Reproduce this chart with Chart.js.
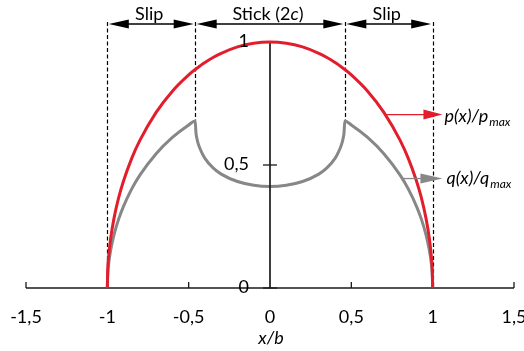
<!DOCTYPE html>
<html>
<head>
<meta charset="utf-8">
<script src="https://cdn.jsdelivr.net/npm/chart.js@4/dist/chart.umd.min.js"></script>
<style>
  html, body { margin: 0; padding: 0; background: #fff; }
  #wrap { width: 524px; height: 351px; }
</style>
</head>
<body>
<div id="wrap"><canvas id="chart" width="524" height="351"></canvas></div>
<script>
// Normalised position across the contact, x/b
const xPos = [
  -1, -0.998, -0.99, -0.98, -0.96, -0.93, -0.9, -0.85, -0.8, -0.7, -0.6, -0.5,
  -0.46, -0.455, -0.45, -0.44, -0.42, -0.4, -0.35, -0.3, -0.2, -0.1,
  0,
  0.1, 0.2, 0.3, 0.35, 0.4, 0.42, 0.44, 0.45, 0.455, 0.46,
  0.5, 0.6, 0.7, 0.8, 0.85, 0.9, 0.93, 0.96, 0.98, 0.99, 0.998, 1
];
// Normal pressure p(x)/pmax
const pValues = [
  0, 0.063, 0.141, 0.199, 0.280, 0.368, 0.436, 0.527, 0.600, 0.714, 0.800, 0.866,
  0.888, 0.890, 0.893, 0.898, 0.908, 0.917, 0.937, 0.954, 0.980, 0.995,
  1,
  0.995, 0.980, 0.954, 0.937, 0.917, 0.908, 0.898, 0.893, 0.890, 0.888,
  0.866, 0.800, 0.714, 0.600, 0.527, 0.436, 0.368, 0.280, 0.199, 0.141, 0.063, 0
];
// Shear traction q(x)/qmax
const qValues = [
  0, 0.048, 0.108, 0.152, 0.214, 0.281, 0.333, 0.403, 0.459, 0.546, 0.612, 0.663,
  0.679, 0.630, 0.610, 0.584, 0.551, 0.527, 0.488, 0.463, 0.433, 0.418,
  0.413,
  0.418, 0.433, 0.463, 0.488, 0.527, 0.551, 0.584, 0.610, 0.630, 0.679,
  0.663, 0.612, 0.546, 0.459, 0.403, 0.333, 0.281, 0.214, 0.152, 0.108, 0.048, 0
];

const xTicks = [-1.5, -1, -0.5, 0, 0.5, 1, 1.5];
const xTickLabels = ['-1,5', '-1', '-0,5', '0', '0,5', '1', '1,5'];
const yTicks = [0, 0.5, 1];
const yTickLabels = ['0', '0,5', '1'];

// Slip / stick zone boundaries, where each boundary line stops, and captions
const zoneEdges = [-1, -0.46, 0.46, 1];
const zoneEdgeEnds = [0, 0.679, 0.679, 0];
const zoneLabels = [
  [['Slip', false]],
  [['Stick (2', false], ['c', true], [')', false]],
  [['Slip', false]]
];

const RED = '#e31e2c';
const GREY = '#878787';
const INK = '#1a1a1a';
const FONT = 'Lato, "Open Sans", sans-serif';

const pPoints = xPos.map((x, i) => ({ x: x, y: pValues[i] }));
const qPoints = xPos.map((x, i) => ({ x: x, y: qValues[i] }));

function arrowHead(ctx, tipX, tipY, dir, len, half, color) {
  ctx.save();
  ctx.fillStyle = color;
  ctx.beginPath();
  ctx.moveTo(tipX, tipY);
  ctx.lineTo(tipX - dir * len, tipY - half);
  ctx.lineTo(tipX - dir * len, tipY + half);
  ctx.closePath();
  ctx.fill();
  ctx.restore();
}

function drawRich(ctx, parts, cx, y, size) {
  let total = 0;
  parts.forEach(([t, it]) => {
    ctx.font = (it ? 'italic ' : '') + size + 'px ' + FONT;
    total += ctx.measureText(t).width;
  });
  let x = cx - total / 2;
  ctx.textAlign = 'left';
  parts.forEach(([t, it]) => {
    ctx.font = (it ? 'italic ' : '') + size + 'px ' + FONT;
    ctx.fillText(t, x, y);
    x += ctx.measureText(t).width;
  });
}

function curveLabel(ctx, x, y, main, sub) {
  ctx.save();
  ctx.fillStyle = '#000';
  ctx.textAlign = 'left';
  ctx.textBaseline = 'alphabetic';
  ctx.font = 'italic 18px ' + FONT;
  ctx.fillText(main, x, y);
  const w = ctx.measureText(main).width;
  ctx.font = 'italic 12px ' + FONT;
  ctx.fillText(sub, x + w + 1, y + 4);
  ctx.restore();
}

// Zone markers: dashed boundaries and dimension arrows
const zonePlugin = {
  id: 'zones',
  beforeDatasetsDraw(chart) {
    const { ctx, scales: { x, y } } = chart;
    const yTop = 22;
    const yArrow = 24;
    ctx.save();
    ctx.strokeStyle = '#000';
    ctx.lineWidth = 1.2;
    ctx.setLineDash([4, 2.5]);
    zoneEdges.forEach((v, i) => {
      const px = Math.round(x.getPixelForValue(v)) + 0.5;
      ctx.beginPath();
      ctx.moveTo(px, yTop);
      ctx.lineTo(px, y.getPixelForValue(zoneEdgeEnds[i]));
      ctx.stroke();
    });
    ctx.setLineDash([]);
    ctx.lineWidth = 1.3;
    for (let i = 0; i < zoneEdges.length - 1; i++) {
      const a = x.getPixelForValue(zoneEdges[i]) + 1.5;
      const b = x.getPixelForValue(zoneEdges[i + 1]) - 1.5;
      ctx.beginPath();
      ctx.moveTo(a + 10, yArrow);
      ctx.lineTo(b - 10, yArrow);
      ctx.stroke();
      arrowHead(ctx, a, yArrow, -1, 20, 4.5, '#000');
      arrowHead(ctx, b, yArrow, 1, 20, 4.5, '#000');
      ctx.fillStyle = '#000';
      ctx.textBaseline = 'alphabetic';
      drawRich(ctx, zoneLabels[i], (a + b) / 2 - 2, 20, 18);
    }
    ctx.restore();
  },
  afterDatasetDraw(chart, args) {
    // axes sit above the shear curve but below the pressure curve
    if (args.index !== 1) return;
    const { ctx, scales: { x, y } } = chart;
    const y0 = y.getPixelForValue(0);
    const x0 = x.getPixelForValue(0);
    ctx.save();
    ctx.strokeStyle = INK;
    ctx.lineWidth = 1.7;
    ctx.beginPath();
    ctx.moveTo(x.getPixelForValue(-1.5), y0);
    ctx.lineTo(x.getPixelForValue(1.5), y0);
    ctx.stroke();
    ctx.beginPath();
    ctx.moveTo(x0, y0);
    ctx.lineTo(x0, y.getPixelForValue(1));
    ctx.stroke();
    ctx.lineWidth = 1.3;
    xTicks.forEach(v => {
      if (v === 0) return;
      const px = x.getPixelForValue(v);
      ctx.beginPath();
      ctx.moveTo(px, y0);
      ctx.lineTo(px, y0 - 6);
      ctx.stroke();
    });
    yTicks.forEach(v => {
      const py = y.getPixelForValue(v);
      ctx.beginPath();
      ctx.moveTo(x0 - 7, py);
      ctx.lineTo(x0 + 7, py);
      ctx.stroke();
    });
    ctx.restore();
  },
  afterDatasetsDraw(chart) {
    const { ctx, scales: { x, y } } = chart;
    const y0 = y.getPixelForValue(0);
    const x0 = x.getPixelForValue(0);
    ctx.save();
    ctx.fillStyle = '#000';
    ctx.font = '18px ' + FONT;
    ctx.textAlign = 'center';
    ctx.textBaseline = 'alphabetic';
    xTicks.forEach((v, i) => {
      ctx.fillText(xTickLabels[i], x.getPixelForValue(v), y0 + 35);
    });
    ctx.textAlign = 'right';
    ctx.textBaseline = 'middle';
    yTicks.forEach((v, i) => {
      ctx.fillText(yTickLabels[i], x0 - 21, y.getPixelForValue(v) - 1);
    });
    ctx.textAlign = 'center';
    ctx.textBaseline = 'alphabetic';
    ctx.font = 'italic 18px ' + FONT;
    ctx.fillText('x/b', x0 + 1, y0 + 56);

    // callout arrows to the curve names
    const pY = y.getPixelForValue(0.705);
    const pA = x.getPixelForValue(0.71);
    const tip = x.getPixelForValue(1.06);
    ctx.strokeStyle = RED;
    ctx.lineWidth = 1.3;
    ctx.beginPath();
    ctx.moveTo(pA, pY);
    ctx.lineTo(tip - 12, pY);
    ctx.stroke();
    arrowHead(ctx, tip, pY, 1, 19, 5, RED);

    const qY = y.getPixelForValue(0.445);
    const qA = x.getPixelForValue(0.81);
    ctx.strokeStyle = GREY;
    ctx.beginPath();
    ctx.moveTo(qA, qY);
    ctx.lineTo(tip - 12, qY);
    ctx.stroke();
    arrowHead(ctx, tip, qY, 1, 22, 5, GREY);
    ctx.restore();

    curveLabel(ctx, tip + 2, pY + 7, 'p(x)/p', 'max');
    curveLabel(ctx, tip + 4, qY + 5, 'q(x)/q', 'max');
  }
};

new Chart(document.getElementById('chart'), {
  type: 'line',
  data: {
    datasets: [
      {
        label: 'p(x)/pmax',
        data: pPoints,
        borderColor: RED,
        borderWidth: 3,
        pointRadius: 0,
        cubicInterpolationMode: 'monotone',
        clip: 10
      },
      {
        label: 'q(x)/qmax',
        data: qPoints,
        borderColor: GREY,
        borderWidth: 3,
        pointRadius: 0,
        cubicInterpolationMode: 'monotone',
        clip: 10
      }
    ]
  },
  options: {
    responsive: false,
    animation: false,
    layout: { padding: { left: 26, right: 10, top: 42, bottom: 63 } },
    scales: {
      x: { type: 'linear', min: -1.5, max: 1.5, display: false },
      y: { type: 'linear', min: 0, max: 1, display: false }
    },
    plugins: { legend: { display: false }, tooltip: { enabled: false } }
  },
  plugins: [zonePlugin]
});
</script>
</body>
</html>
